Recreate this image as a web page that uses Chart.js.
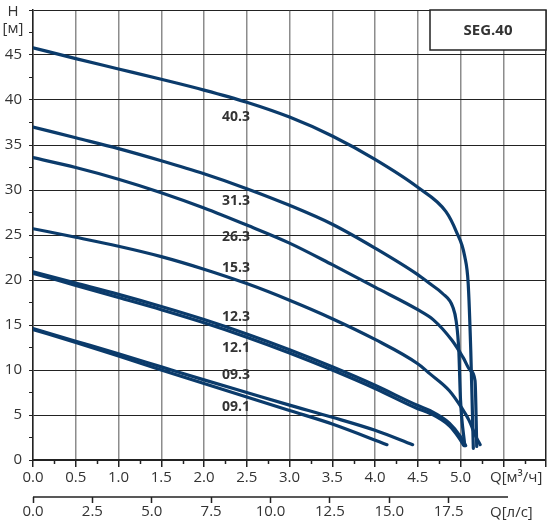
<!DOCTYPE html>
<html lang="ru">
<head>
<meta charset="utf-8">
<title>SEG.40</title>
<script src="https://cdn.jsdelivr.net/npm/chart.js@4.4.1/dist/chart.umd.min.js"></script>
<style>
  html, body { margin: 0; padding: 0; background: #fff; }
  #wrap { width: 548px; height: 522px; position: relative; }
</style>
</head>
<body>
<div id="wrap"><canvas id="chart"></canvas></div>
<script>
// Характеристики Q-H насосов SEG.40
const FONT = "'Open Sans', sans-serif";
const LINE = '#0b3b6b';

// Q [м³/ч] и H [м] по каждой модели
const q403 = [0, 0.5, 1.0, 1.5, 2.0, 2.5, 3.0, 3.5, 4.0, 4.5, 4.83, 4.95, 5.05, 5.09, 5.12, 5.14, 5.15];
const h403 = [45.8, 44.6, 43.45, 42.3, 41.1, 39.75, 38.1, 36.0, 33.4, 30.3, 27.6, 25.4, 22.6, 19.6, 12.2, 5.0, 1.3];

const q313 = [0, 0.5, 1.0, 1.5, 2.0, 2.5, 3.0, 3.5, 4.0, 4.5, 4.64, 4.79, 4.91, 4.95, 4.98, 5.0, 5.05];
const h313 = [37.0, 35.8, 34.6, 33.25, 31.8, 30.15, 28.3, 26.2, 23.55, 20.6, 19.6, 18.5, 17.0, 15.4, 12.2, 6.7, 1.6];

const q263 = [0, 0.5, 1.0, 1.5, 2.0, 2.5, 3.0, 3.5, 4.0, 4.5, 4.68, 4.9, 5.03, 5.12, 5.17, 5.19];
const h263 = [33.6, 32.5, 31.2, 29.7, 28.0, 26.1, 24.1, 21.7, 19.2, 16.7, 15.6, 13.3, 11.4, 9.9, 8.8, 1.5];

const q153 = [0, 0.5, 1.0, 1.5, 2.0, 2.5, 3.0, 3.5, 4.0, 4.5, 4.64, 4.87, 5.02, 5.1, 5.18, 5.23];
const h153 = [25.7, 24.75, 23.75, 22.6, 21.2, 19.6, 17.75, 15.7, 13.4, 10.7, 9.6, 7.7, 5.7, 4.4, 2.6, 1.7];

const q123 = [0, 0.5, 1.0, 1.5, 2.0, 2.5, 3.0, 3.5, 4.0, 4.5, 4.64, 4.87, 5.0, 5.06];
const h123 = [20.9, 19.65, 18.4, 17.05, 15.6, 14.0, 12.25, 10.35, 8.3, 6.05, 5.5, 4.1, 2.6, 1.6];

const q121 = [0, 0.5, 1.0, 1.5, 2.0, 2.5, 3.0, 3.5, 4.0, 4.5, 4.64, 4.87, 4.98, 5.04];
const h121 = [20.75, 19.4, 18.05, 16.7, 15.25, 13.65, 11.9, 10.0, 7.95, 5.7, 5.2, 3.8, 2.5, 1.6];

const q093 = [0, 0.5, 1.0, 1.5, 2.0, 2.5, 3.0, 3.5, 4.0, 4.44];
const h093 = [14.6, 13.2, 11.8, 10.35, 8.9, 7.5, 6.1, 4.75, 3.3, 1.7];

const q091 = [0, 0.5, 1.0, 1.5, 2.0, 2.5, 3.0, 3.5, 4.14];
const h091 = [14.5, 13.05, 11.55, 10.0, 8.5, 7.0, 5.5, 4.0, 1.7];

// подписи моделей: текст и положение по осям
const models = ['40.3', '31.3', '26.3', '15.3', '12.3', '12.1', '09.3', '09.1'];
const labelQ = [2.21, 2.21, 2.21, 2.21, 2.21, 2.21, 2.21, 2.21];
const labelH = [38.1, 28.8, 24.8, 21.3, 15.9, 12.4, 9.45, 5.9];

const curves = [[q403, h403], [q313, h313], [q263, h263], [q153, h153],
                [q123, h123], [q121, h121], [q093, h093], [q091, h091]];

const datasets = curves.map(([q, h], i) => ({
  label: models[i],
  data: q.map((v, k) => ({ x: v, y: h[k] })),
  borderColor: LINE,
  borderWidth: 3.2,
  borderCapStyle: 'round',
  borderJoinStyle: 'round',
  pointRadius: 0,
  fill: false,
  cubicInterpolationMode: 'monotone',
  xAxisID: 'x',
  yAxisID: 'y'
}));

const isHalf = v => Math.abs(v * 2 - Math.round(v * 2)) < 1e-6;

// надписи, рамка с названием серии, мелкие риски
const overlay = {
  id: 'overlay',
  afterDatasetsDraw(chart) {
    const { ctx, scales } = chart;
    const x = scales.x, y = scales.y, x2 = scales.x2;
    ctx.save();

    // подписи кривых
    ctx.fillStyle = '#333';
    ctx.font = 'bold 14px ' + FONT;
    ctx.textAlign = 'left';
    ctx.textBaseline = 'middle';
    models.forEach((m, i) => {
      ctx.fillText(m, x.getPixelForValue(labelQ[i]), y.getPixelForValue(labelH[i]));
    });

    // рамка SEG.40
    const bx = 430, by = chart.chartArea.top, bw = chart.chartArea.right - 430, bh = 40;
    ctx.fillStyle = '#fff';
    ctx.fillRect(bx, by, bw, bh);
    ctx.strokeStyle = '#222';
    ctx.lineWidth = 1.5;
    ctx.strokeRect(bx, by, bw, bh);
    ctx.fillStyle = '#333';
    ctx.font = 'bold 15px ' + FONT;
    ctx.textAlign = 'center';
    ctx.fillText('SEG.40', bx + bw / 2, by + bh / 2 + 1);

    // мелкие риски оси Q [м³/ч]
    ctx.strokeStyle = '#222';
    ctx.lineWidth = 1.5;
    const base = chart.chartArea.bottom;
    for (let v = 0.25; v < 6; v += 0.5) {
      const px = Math.round(x.getPixelForValue(v)) + 0.5;
      ctx.beginPath();
      ctx.moveTo(px, base);
      ctx.lineTo(px, base + 4);
      ctx.stroke();
    }

    // линия оси Q [л/с]
    ctx.lineWidth = 1.5;
    ctx.beginPath();
    ctx.moveTo(x2.getPixelForValue(0), x2.top);
    ctx.lineTo(x2.getPixelForValue(20), x2.top);
    ctx.stroke();

    // названия осей
    ctx.fillStyle = '#333';
    ctx.font = '15px ' + FONT;
    ctx.textAlign = 'left';
    ctx.fillText('Q[м³/ч]', 490, 478);
    ctx.fillText('Q[л/с]', 490, 513);
    ctx.textAlign = 'center';
    ctx.fillText('H', 13, 12);
    ctx.fillText('[м]', 13, 29);

    ctx.restore();
  }
};

new Chart(document.getElementById('chart'), {
  type: 'line',
  data: { datasets },
  plugins: [overlay],
  options: {
    responsive: true,
    maintainAspectRatio: false,
    animation: false,
    layout: { padding: { top: 10, right: 2, left: 0, bottom: 0 } },
    plugins: { legend: { display: false }, tooltip: { enabled: false } },
    scales: {
      x: {
        type: 'linear',
        position: 'bottom',
        min: 0,
        max: 6,
        afterFit: s => { s.height = 37; s.paddingLeft = 0; s.paddingRight = 0; },
        border: { color: '#222', width: 2 },
        grid: {
          color: c => (c.tick && c.tick.value === 6) ? '#222' : (c.tick && isHalf(c.tick.value) ? '#8c8c8c' : 'transparent'),
          lineWidth: 1.5,
          tickColor: c => (c.tick && isHalf(c.tick.value)) ? '#222' : 'transparent',
          tickLength: 7,
          tickWidth: 1.5
        },
        ticks: {
          stepSize: 0.25,
          autoSkip: false,
          maxRotation: 0,
          padding: 2,
          color: '#333',
          font: { family: FONT, size: 15 },
          callback: v => (isHalf(v) && v <= 5) ? v.toFixed(1) : ''
        }
      },
      x2: {
        type: 'linear',
        position: 'bottom',
        min: 0,
        max: 21.6,
        afterFit: s => { s.height = 25; s.paddingLeft = 0; s.paddingRight = 0; },
        border: { display: false },
        grid: {
          drawOnChartArea: false,
          drawTicks: true,
          tickLength: 6,
          tickWidth: 1.5,
          color: '#222',
          tickColor: c => (c.tick && c.tick.value <= 20) ? '#222' : 'transparent'
        },
        ticks: {
          stepSize: 2.5,
          autoSkip: false,
          maxRotation: 0,
          padding: 0,
          color: '#333',
          font: { family: FONT, size: 15 },
          callback: v => v <= 17.5 ? v.toFixed(1) : ''
        }
      },
      y: {
        type: 'linear',
        min: 0,
        max: 50,
        afterFit: s => { s.width = 33; s.paddingTop = 0; s.paddingBottom = 0; },
        border: { color: '#222', width: 1.5 },
        grid: {
          color: c => (c.tick && c.tick.value % 5 === 0) ? '#222' : 'transparent',
          lineWidth: 1,
          tickColor: '#222',
          tickLength: 4
        },
        ticks: {
          stepSize: 2.5,
          autoSkip: false,
          padding: 7,
          color: '#333',
          font: { family: FONT, size: 15 },
          callback: v => (v % 5 === 0 && v < 50) ? String(v) : ''
        }
      }
    }
  }
});
</script>
</body>
</html>
